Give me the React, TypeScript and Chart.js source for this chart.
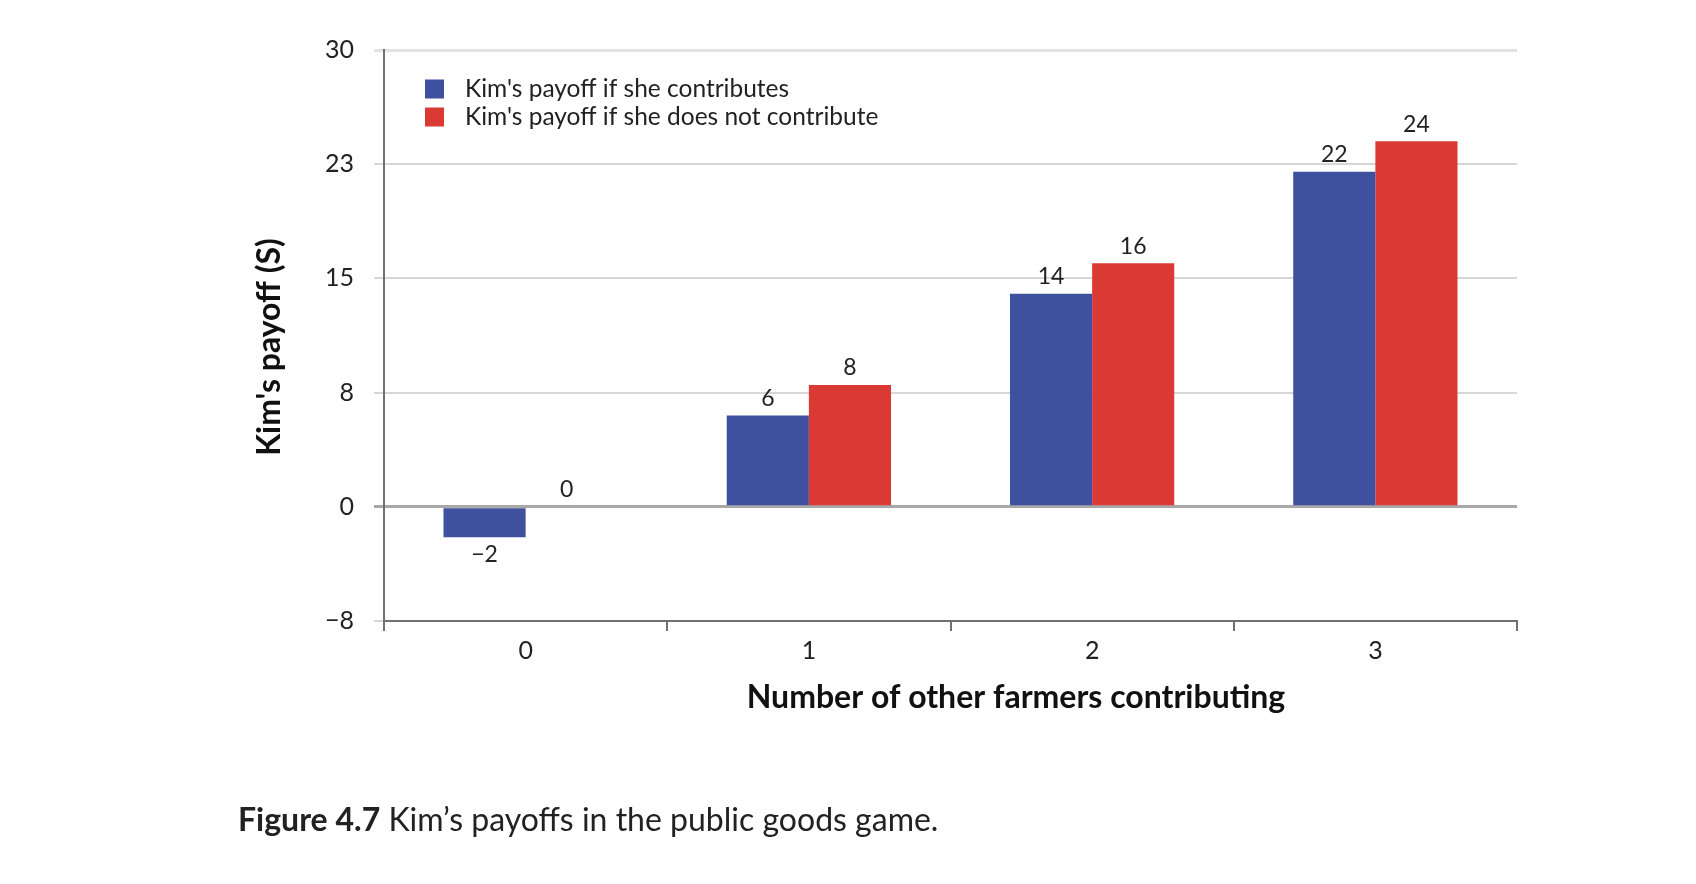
import React, { useEffect, useRef } from "react";
import { Chart, registerables } from "chart.js";

Chart.register(...registerables);

// Payoffs by number of other farmers contributing
const categories = ["0", "1", "2", "3"];
const contributes = [-2, 6, 14, 22];
const doesNotContribute = [0, 8, 16, 24];
const seriesNames = [
  "Kim's payoff if she contributes",
  "Kim's payoff if she does not contribute",
];
const seriesColors = ["#3f519e", "#db3a34"];
const yMin = -7.5;
const yMax = 30;
const yStep = 7.5;
const yTitle = "Kim's payoff (S)";
const xTitle = "Number of other farmers contributing";

const FONT = "Lato, 'Liberation Sans', sans-serif";

const fmt = (v: number) => {
  const r = Math.sign(v) * Math.round(Math.abs(v));
  return r < 0 ? "\u2212" + Math.abs(r) : String(r);
};

const annotate = {
  id: "annotate",
  afterDatasetsDraw(chart: any) {
    const { ctx, chartArea } = chart;
    ctx.save();
    // value labels
    ctx.font = `23px ${FONT}`;
    ctx.fillStyle = "#222";
    ctx.textAlign = "center";
    ctx.textBaseline = "middle";
    chart.data.datasets.forEach((ds: any, i: number) => {
      const meta = chart.getDatasetMeta(i);
      meta.data.forEach((bar: any, j: number) => {
        const v = ds.data[j] as number;
        const { x, y } = bar.getProps(["x", "y"], true);
        ctx.fillText(fmt(v), x, y + (v < 0 ? 17 : -17));
      });
    });

    // legend
    ctx.font = `24.5px ${FONT}`;
    ctx.textAlign = "left";
    chart.data.datasets.forEach((ds: any, i: number) => {
      const cy = chartArea.top + 39 + i * 28;
      ctx.fillStyle = ds.backgroundColor;
      ctx.fillRect(chartArea.left + 41, cy - 9.5, 19, 19);
      ctx.fillStyle = "#222";
      ctx.fillText(ds.label, chartArea.left + 81, cy);
    });

    // axis titles
    ctx.font = `bold 32px ${FONT}`;
    ctx.fillStyle = "#111";
    ctx.textAlign = "center";
    ctx.save();
    ctx.translate(chartArea.left - 114, 347);
    ctx.rotate(-Math.PI / 2);
    ctx.fillText(yTitle, 0, 0);
    ctx.restore();

    ctx.font = `bold 32px ${FONT}`;
    ctx.fillText(xTitle, 1016, 698);
    ctx.restore();
  },
};

export default function App() {
  const ref = useRef<HTMLCanvasElement | null>(null);

  useEffect(() => {
    if (!ref.current) return;
    const chart = new Chart(ref.current, {
      type: "bar",
      data: {
        labels: categories,
        datasets: [
          {
            label: seriesNames[0],
            data: contributes,
            backgroundColor: seriesColors[0],
            categoryPercentage: 0.58,
            barPercentage: 1,
          },
          {
            label: seriesNames[1],
            data: doesNotContribute,
            backgroundColor: seriesColors[1],
            categoryPercentage: 0.58,
            barPercentage: 1,
          },
        ],
      },
      options: {
        animation: false,
        responsive: false,
        layout: { padding: { top: 50, right: 179, left: 0, bottom: 0 } },
        plugins: {
          legend: { display: false },
          tooltip: { enabled: false },
          title: { display: false },
        },
        scales: {
          x: {
            offset: true,
            grid: {
              offset: true,
              drawOnChartArea: false,
              drawTicks: true,
              tickLength: 10,
              color: "#707070",
              lineWidth: 2,
            },
            border: { display: true, color: "#707070", width: 2 },
            ticks: {
              padding: 5,
              color: "#222",
              font: { family: FONT, size: 25 },
            },
            afterFit: (s: any) => {
              s.height = 884 - 621;
            },
          },
          y: {
            min: yMin,
            max: yMax,
            ticks: {
              stepSize: yStep,
              padding: 20,
              color: "#222",
              font: { family: FONT, size: 25 },
              callback: (v: any) => fmt(Number(v)),
            },
            grid: {
              drawTicks: true,
              tickLength: 10,
              color: (c: any) =>
                c.tick && c.tick.value === 0
                  ? "#a8a8a8"
                  : c.tick && c.tick.value === yMax
                  ? "#e2e2e2"
                  : "#d6d6d6",
              lineWidth: (c: any) =>
                c.tick && (c.tick.value === 0 || c.tick.value === yMax) ? 3 : 2,
            },
            border: { display: true, color: "#707070", width: 2 },
            afterFit: (s: any) => {
              s.width = 384;
            },
          },
        },
      },
      plugins: [annotate],
    });
    return () => chart.destroy();
  }, []);

  return (
    <div
      style={{
        position: "fixed",
        left: 0,
        top: 0,
        width: 1696,
        height: 884,
        background: "#fff",
      }}
    >
      <canvas ref={ref} width={1696} height={884} style={{ display: "block" }} />
      <div
        style={{
          position: "absolute",
          left: 238,
          top: 799,
          fontFamily: FONT,
          fontSize: 32,
          color: "#222",
          whiteSpace: "nowrap",
        }}
      >
        <b>Figure 4.7</b> Kim’s payoffs in the public goods game.
      </div>
    </div>
  );
}
